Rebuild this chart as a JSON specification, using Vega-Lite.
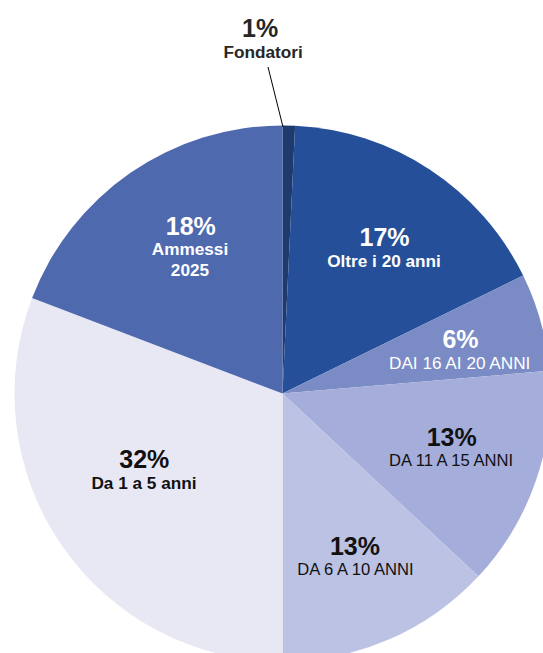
{
  "$schema": "https://vega.github.io/schema/vega-lite/v6.json",
  "width": 543,
  "height": 653,
  "autosize": {"type": "none"},
  "padding": 0,
  "background": "white",
  "config": {"view": {"stroke": null}, "text": {"font": "Liberation Sans"}},
  "data": {
    "values": [
      {"cat": "Fondatori", "value": 0.75, "pct": "1%", "order": 1},
      {"cat": "Oltre i 20 anni", "value": 17.0, "pct": "17%", "order": 2},
      {"cat": "DAI 16 AI 20 ANNI", "value": 5.9, "pct": "6%", "order": 3},
      {"cat": "DA 11 A 15 ANNI", "value": 13.3, "pct": "13%", "order": 4},
      {"cat": "DA 6 A 10 ANNI", "value": 13.05, "pct": "13%", "order": 5},
      {"cat": "Da 1 a 5 anni", "value": 30.8, "pct": "32%", "order": 6},
      {"cat": "Ammessi 2025", "value": 19.2, "pct": "18%", "order": 7}
    ]
  },
  "transform": [
    {"stack": "value", "groupby": [], "sort": [{"field": "order", "order": "ascending"}], "as": ["v0", "v1"]},
    {"calculate": "(datum.v0 + datum.v1) / 2", "as": "mid"}
  ],
  "layer": [
    {
      "mark": {"type": "arc", "x": 282.5, "y": 393.5, "outerRadius": 268},
      "encoding": {
        "theta": {"field": "v0", "type": "quantitative", "scale": {"domain": [0, 100], "range": [0, 6.283185307]}},
        "theta2": {"field": "v1"},
        "color": {
          "field": "cat", "type": "nominal", "legend": null,
          "scale": {
            "domain": ["Fondatori", "Oltre i 20 anni", "DAI 16 AI 20 ANNI", "DA 11 A 15 ANNI", "DA 6 A 10 ANNI", "Da 1 a 5 anni", "Ammessi 2025"],
            "range": ["#1f3a6d", "#254f99", "#7a8bc6", "#a5addb", "#bcc2e4", "#e8e8f5", "#4f69af"]
          }
        }
      }
    },
    {
      "transform": [{"filter": "datum.cat === 'Fondatori'"}],
      "mark": {"type": "rule", "stroke": "#000000", "strokeWidth": 1},
      "encoding": {"x": {"value": 283}, "y": {"value": 127}, "x2": {"value": 268}, "y2": {"value": 67}}
    },
    {
      "transform": [{"filter": "datum.cat === 'Fondatori'"}],
      "encoding": {"theta": {"field": "mid", "type": "quantitative"}},
      "layer": [
        {"mark": {"type": "text", "x": 282.5, "y": 393.5, "radius": 350, "dx": -30.7, "dy": -6.6, "baseline": "alphabetic", "fontSize": 25, "fontWeight": "bold", "fill": "#262626"},
         "encoding": {"text": {"field": "pct"}}},
        {"mark": {"type": "text", "x": 282.5, "y": 393.5, "radius": 350, "dx": -27.7, "dy": 14.7, "baseline": "alphabetic", "fontSize": 17.2, "fontWeight": "bold", "fill": "#262626"},
         "encoding": {"text": {"field": "cat"}}}
      ]
    },
    {
      "transform": [{"filter": "datum.cat === 'Oltre i 20 anni'"}],
      "encoding": {"theta": {"field": "mid", "type": "quantitative"}},
      "layer": [
        {"mark": {"type": "text", "x": 282.5, "y": 393.5, "radius": 178, "dx": 4.3, "dy": 1.0, "baseline": "alphabetic", "fontSize": 25, "fontWeight": "bold", "fill": "#ffffff"},
         "encoding": {"text": {"field": "pct"}}},
        {"mark": {"type": "text", "x": 282.5, "y": 393.5, "radius": 178, "dx": 3.8, "dy": 22.0, "baseline": "alphabetic", "fontSize": 17.2, "fontWeight": "bold", "fill": "#ffffff"},
         "encoding": {"text": {"field": "cat"}}}
      ]
    },
    {
      "transform": [{"filter": "datum.cat === 'DAI 16 AI 20 ANNI'"}],
      "encoding": {"theta": {"field": "mid", "type": "quantitative"}},
      "layer": [
        {"mark": {"type": "text", "x": 282.5, "y": 393.5, "radius": 182, "dx": 2.6, "dy": 3.1, "baseline": "alphabetic", "fontSize": 25, "fontWeight": "bold", "fill": "#ffffff"},
         "encoding": {"text": {"field": "pct"}}},
        {"mark": {"type": "text", "x": 282.5, "y": 393.5, "radius": 182, "dx": 1.8, "dy": 24.1, "baseline": "alphabetic", "fontSize": 17.2, "fontWeight": "normal", "fill": "#ffffff"},
         "encoding": {"text": {"field": "cat"}}}
      ]
    },
    {
      "transform": [{"filter": "datum.cat === 'DA 11 A 15 ANNI'"}],
      "encoding": {"theta": {"field": "mid", "type": "quantitative"}},
      "layer": [
        {"mark": {"type": "text", "x": 282.5, "y": 393.5, "radius": 178, "dx": 1.0, "dy": -6.0, "baseline": "alphabetic", "fontSize": 25, "fontWeight": "bold", "fill": "#111111"},
         "encoding": {"text": {"field": "pct"}}},
        {"mark": {"type": "text", "x": 282.5, "y": 393.5, "radius": 178, "dx": 0.3, "dy": 14.3, "baseline": "alphabetic", "fontSize": 16.6, "fontWeight": "normal", "fill": "#111111"},
         "encoding": {"text": {"field": "cat"}}}
      ]
    },
    {
      "transform": [{"filter": "datum.cat === 'DA 6 A 10 ANNI'"}],
      "encoding": {"theta": {"field": "mid", "type": "quantitative"}},
      "layer": [
        {"mark": {"type": "text", "x": 282.5, "y": 393.5, "radius": 180, "dx": 0.7, "dy": -3.6, "baseline": "alphabetic", "fontSize": 25, "fontWeight": "bold", "fill": "#111111"},
         "encoding": {"text": {"field": "pct"}}},
        {"mark": {"type": "text", "x": 282.5, "y": 393.5, "radius": 180, "dx": 1.2, "dy": 16.4, "baseline": "alphabetic", "fontSize": 16.6, "fontWeight": "normal", "fill": "#111111"},
         "encoding": {"text": {"field": "cat"}}}
      ]
    },
    {
      "transform": [{"filter": "datum.cat === 'Da 1 a 5 anni'"}],
      "encoding": {"theta": {"field": "mid", "type": "quantitative"}},
      "layer": [
        {"mark": {"type": "text", "x": 282.5, "y": 393.5, "radius": 158, "dx": -8.1, "dy": -14.8, "baseline": "alphabetic", "fontSize": 25, "fontWeight": "bold", "fill": "#111111"},
         "encoding": {"text": {"field": "pct"}}},
        {"mark": {"type": "text", "x": 282.5, "y": 393.5, "radius": 158, "dx": -8.4, "dy": 6.2, "baseline": "alphabetic", "fontSize": 17.2, "fontWeight": "bold", "fill": "#111111"},
         "encoding": {"text": {"field": "cat"}}}
      ]
    },
    {
      "transform": [{"filter": "datum.cat === 'Ammessi 2025'"}],
      "encoding": {"theta": {"field": "mid", "type": "quantitative"}},
      "layer": [
        {"mark": {"type": "text", "x": 282.5, "y": 393.5, "radius": 180, "dx": 10.4, "dy": -10.3, "baseline": "alphabetic", "fontSize": 25, "fontWeight": "bold", "fill": "#ffffff"},
         "encoding": {"text": {"field": "pct"}}},
        {"mark": {"type": "text", "x": 282.5, "y": 393.5, "radius": 180, "dx": 9.6, "dy": 9.7, "baseline": "alphabetic", "fontSize": 17.2, "fontWeight": "bold", "fill": "#ffffff", "lineBreak": " ", "lineHeight": 21},
         "encoding": {"text": {"field": "cat"}}}
      ]
    }
  ]
}
